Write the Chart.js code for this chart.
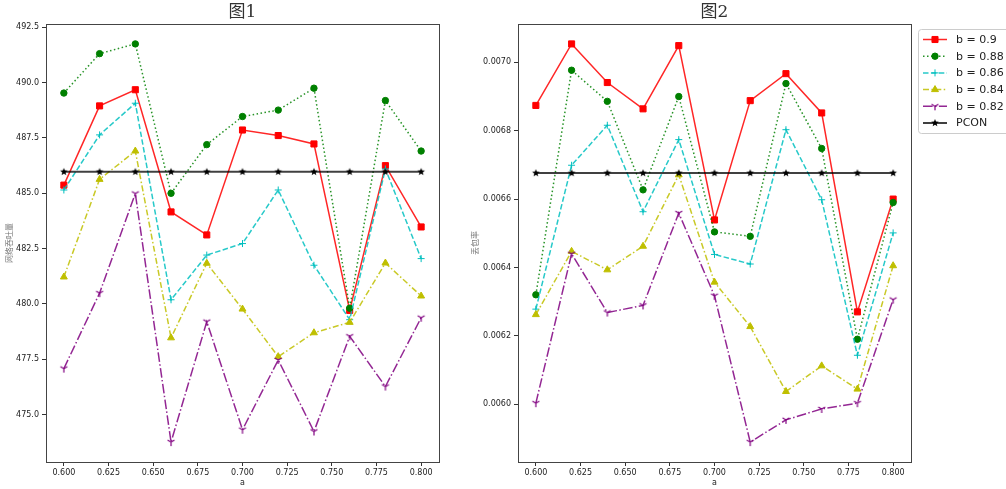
<!DOCTYPE html>
<html>
<head>
<meta charset="utf-8">
<script src="https://cdn.jsdelivr.net/npm/chart.js@4/dist/chart.umd.min.js"></script>
<style>
  body { margin: 0; background: #fff; width: 1006px; height: 489px; overflow: hidden; position: relative; }
  canvas { position: absolute; top: 0; }
  #tpChart { left: 0; }
  #lossChart { left: 460px; }
</style>
</head>
<body>
<canvas id="tpChart" width="460" height="489"></canvas>
<canvas id="lossChart" width="546" height="489"></canvas>
<script>
const aValues = [0.60, 0.62, 0.64, 0.66, 0.68, 0.70, 0.72, 0.74, 0.76, 0.78, 0.80];
const seriesNames = ['b = 0.9', 'b = 0.88', 'b = 0.86', 'b = 0.84', 'b = 0.82', 'PCON'];

// 网络吞吐量
const tp_b090 = [485.37, 488.95, 489.68, 484.16, 483.12, 487.86, 487.61, 487.23, 479.71, 486.25, 483.48];
const tp_b088 = [489.53, 491.31, 491.75, 485.00, 487.20, 488.47, 488.76, 489.75, 479.81, 489.19, 486.91];
const tp_b086 = [485.15, 487.64, 489.07, 480.19, 482.21, 482.73, 485.15, 481.75, 479.29, 486.10, 482.05];
const tp_b084 = [481.22, 485.63, 486.91, 478.47, 481.84, 479.77, 477.62, 478.70, 479.17, 481.85, 480.36];
const tp_b082 = [477.08, 480.49, 484.99, 473.76, 479.20, 474.32, 477.47, 474.24, 478.54, 476.27, 479.38];
const tp_pcon = [485.97, 485.97, 485.97, 485.97, 485.97, 485.97, 485.97, 485.97, 485.97, 485.97, 485.97];

// 丢包率
const loss_b090 = [0.006874, 0.007054, 0.006941, 0.006864, 0.007049, 0.006539, 0.006888, 0.006967, 0.006852, 0.006270, 0.006600];
const loss_b088 = [0.006320, 0.006977, 0.006886, 0.006627, 0.006900, 0.006504, 0.006491, 0.006938, 0.006748, 0.006190, 0.006590];
const loss_b086 = [0.006278, 0.006699, 0.006816, 0.006563, 0.006774, 0.006438, 0.006410, 0.006803, 0.006598, 0.006143, 0.006501];
const loss_b084 = [0.006262, 0.006447, 0.006393, 0.006462, 0.006671, 0.006357, 0.006227, 0.006037, 0.006112, 0.006044, 0.006405];
const loss_b082 = [0.006003, 0.006440, 0.006268, 0.006289, 0.006559, 0.006317, 0.005889, 0.005954, 0.005986, 0.006003, 0.006306];
const loss_pcon = [0.006676, 0.006676, 0.006676, 0.006676, 0.006676, 0.006676, 0.006676, 0.006676, 0.006676, 0.006676, 0.006676];

const xTicks = [0.600, 0.625, 0.650, 0.675, 0.700, 0.725, 0.750, 0.775, 0.800];
const tpTicks = [475.0, 477.5, 480.0, 482.5, 485.0, 487.5, 490.0, 492.5];
const lossTicks = [0.0060, 0.0062, 0.0064, 0.0066, 0.0068, 0.0070];

const TICK_FONT = { family: 'DejaVu Sans', size: 8 };

function markerCanvas(size, draw) {
    const c = document.createElement('canvas');
    c.width = c.height = size;
    draw(c.getContext('2d'), size / 2);
    return c;
}

// matplotlib '*'
const starMarker = markerCanvas(10, (ctx, c) => {
    ctx.fillStyle = '#000';
    ctx.beginPath();
    for (let i = 0; i < 10; i++) {
        const r = i % 2 === 0 ? 4 : 1.7;
        const ang = -Math.PI / 2 + i * Math.PI / 5;
        ctx.lineTo(c + r * Math.cos(ang), c + r * Math.sin(ang));
    }
    ctx.closePath();
    ctx.fill();
});

// matplotlib '1' (tri_down)
const triDownMarker = markerCanvas(10, (ctx, c) => {
    ctx.strokeStyle = '#800080';
    ctx.lineWidth = 1.2;
    ctx.beginPath();
    [Math.PI / 2, Math.PI * 7 / 6, -Math.PI / 6].forEach(ang => {
        ctx.moveTo(c, c);
        ctx.lineTo(c + 4 * Math.cos(ang), c + 4 * Math.sin(ang));
    });
    ctx.stroke();
});

const styles = [
    { color: '#ff0000', line: 'rgba(255,0,0,0.85)', dash: [], pointStyle: 'rect', radius: 4.3, width: 1.5 },
    { color: '#008000', line: 'rgba(0,128,0,0.85)', dash: [1.5, 2.5], pointStyle: 'circle', radius: 3.2, width: 1.5 },
    { color: '#00bfbf', line: 'rgba(0,191,191,0.85)', dash: [5.5, 2.4], pointStyle: 'cross', radius: 3.5, width: 1.5 },
    { color: '#bfbf00', line: 'rgba(191,191,0,0.85)', dash: [6, 2.4, 1.5, 2.4], pointStyle: 'triangle', radius: 4, width: 1.5 },
    { color: '#800080', line: 'rgba(128,0,128,0.85)', dash: [9.6, 2.4, 1.5, 2.4], pointStyle: triDownMarker, radius: 4, width: 1.5 },
    { color: '#000000', line: 'rgba(0,0,0,0.75)', dash: [], pointStyle: starMarker, radius: 4, width: 2 }
];

function buildDatasets(seriesList) {
    return seriesList.map((values, i) => {
        const s = styles[i];
        return {
            label: seriesNames[i],
            data: aValues.map((a, j) => ({ x: a, y: values[j] })),
            borderColor: s.line,
            borderWidth: s.width,
            borderDash: s.dash,
            pointStyle: s.pointStyle,
            pointRadius: s.radius,
            pointBackgroundColor: s.color,
            pointBorderColor: s.color,
            pointBorderWidth: 1,
            tension: 0,
            fill: false,
            order: seriesList.length - i
        };
    });
}

function paddedRange(seriesList) {
    const all = seriesList.flat();
    const lo = Math.min(...all), hi = Math.max(...all);
    const m = (hi - lo) * 0.05;
    return [lo - m, hi + m];
}

// frame + title drawn on top, like the matplotlib axes box
const framePlugin = {
    id: 'frame',
    afterDraw(chart, args, opts) {
        const { ctx, chartArea: a } = chart;
        ctx.save();
        ctx.strokeStyle = '#444';
        ctx.lineWidth = 1;
        ctx.strokeRect(Math.round(a.left) + 0.5, Math.round(a.top) + 0.5,
            Math.round(a.right - a.left), Math.round(a.bottom - a.top));
        ctx.fillStyle = '#333';
        ctx.font = '17px "DejaVu Serif", "Noto Sans CJK SC"';
        ctx.textAlign = 'center';
        ctx.textBaseline = 'middle';
        ctx.fillText(opts.title, (a.left + a.right) / 2, 13);
        ctx.restore();
    }
};

const legendPlugin = {
    id: 'sideLegend',
    afterDraw(chart) {
        const ctx = chart.ctx;
        const x0 = 458, y0 = 29;
        ctx.save();
        ctx.fillStyle = 'rgba(255,255,255,0.8)';
        ctx.strokeStyle = '#cccccc';
        ctx.lineWidth = 1;
        ctx.beginPath();
        ctx.roundRect(x0 + 0.5, y0 + 0.5, 110, 104, 3);
        ctx.fill();
        ctx.stroke();
        ctx.font = '11px "DejaVu Sans"';
        ctx.textBaseline = 'middle';
        chart.data.datasets.forEach((ds, i) => {
            const s = styles[i];
            const y = 39.5 + i * 16.7;
            ctx.strokeStyle = s.line;
            ctx.lineWidth = s.width;
            ctx.setLineDash(s.dash);
            ctx.beginPath();
            ctx.moveTo(463, y);
            ctx.lineTo(487, y);
            ctx.stroke();
            ctx.setLineDash([]);
            ctx.fillStyle = s.color;
            ctx.strokeStyle = s.color;
            ctx.lineWidth = 1;
            Chart.helpers.drawPoint(ctx, { pointStyle: s.pointStyle, radius: s.radius, rotation: 0, borderWidth: 1 }, 475, y);
            ctx.fillStyle = '#222';
            ctx.fillText(ds.label, 496, y + 0.5);
        });
        ctx.restore();
    }
};

function makeChart(canvasId, seriesList, yTicks, yDigits, yTitle, title, yAxisWidth, padRight, yTitlePad, extraPlugins) {
    const [yMin, yMax] = paddedRange(seriesList);
    return new Chart(document.getElementById(canvasId), {
        type: 'line',
        data: { datasets: buildDatasets(seriesList) },
        options: {
            responsive: false,
            animation: false,
            layout: { padding: { top: 24, right: padRight, left: 0, bottom: 0 } },
            plugins: {
                legend: { display: false },
                tooltip: { enabled: false },
                frame: { title: title }
            },
            scales: {
                x: {
                    type: 'linear',
                    min: 0.59,
                    max: 0.81,
                    afterBuildTicks: scale => { scale.ticks = xTicks.map(v => ({ value: v })); },
                    afterFit: scale => { scale.height = 27; },
                    ticks: { font: TICK_FONT, color: '#222', padding: 2, maxRotation: 0, callback: v => v.toFixed(3) },
                    grid: { drawOnChartArea: false, drawTicks: true, tickLength: 4, color: '#333' },
                    border: { display: false },
                    title: { display: true, text: 'a', font: { family: 'DejaVu Sans', size: 8 }, color: '#222', padding: { top: 0, bottom: 1 } }
                },
                y: {
                    type: 'linear',
                    min: yMin,
                    max: yMax,
                    afterBuildTicks: scale => { scale.ticks = yTicks.map(v => ({ value: v })); },
                    afterFit: scale => { scale.width = yAxisWidth; },
                    ticks: { font: TICK_FONT, color: '#222', padding: 3, callback: v => v.toFixed(yDigits) },
                    grid: { drawOnChartArea: false, drawTicks: true, tickLength: 4, color: '#333' },
                    border: { display: false },
                    title: { display: true, text: yTitle, font: { family: 'Noto Sans CJK SC', size: 8 }, color: '#777', padding: { top: yTitlePad, bottom: 0 } }
                }
            }
        },
        plugins: [framePlugin].concat(extraPlugins)
    });
}

makeChart('tpChart', [tp_b090, tp_b088, tp_b086, tp_b084, tp_b082, tp_pcon],
    tpTicks, 1, '网络吞吐量', '图1', 46, 21, 4, []);
makeChart('lossChart', [loss_b090, loss_b088, loss_b086, loss_b084, loss_b082, loss_pcon],
    lossTicks, 4, '丢包率', '图2', 58, 95, 10, [legendPlugin]);
</script>
</body>
</html>
